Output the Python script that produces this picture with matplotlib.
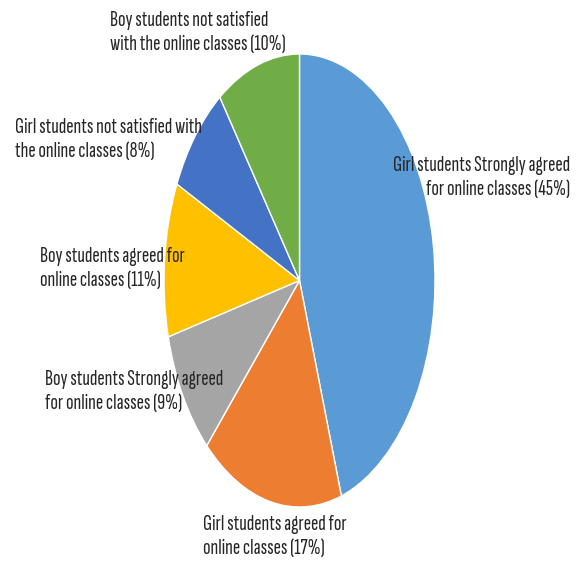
import matplotlib
matplotlib.use("Agg")
import matplotlib.pyplot as plt

# slices, clockwise from 12 o'clock
labels = [
    "Girl students Strongly agreed\nfor online classes (45%)",
    "Girl students agreed for\nonline classes (17%)",
    "Boy students Strongly agreed\nfor online classes (9%)",
    "Boy students agreed for\nonline classes (11%)",
    "Girl students not satisfied with\nthe online classes (8%)",
    "Boy students not satisfied\nwith the online classes (10%)",
]
shares = [45, 17, 9, 11, 8, 10]
colors = ["#5B9BD5", "#ED7D31", "#A5A5A5", "#FFC000", "#4472C4", "#70AD47"]

# label anchors in pixels (x, top of text block, alignment)
label_pos = [
    (570, 156, "right"),
    (203, 515, "left"),
    (45, 370, "left"),
    (40, 247, "left"),
    (15, 118, "left"),
    (110, 11, "left"),
]

W, H = 578, 565
plt.rcParams["font.family"] = ["Sofia Sans Extra Condensed", "DejaVu Sans"]

fig = plt.figure(figsize=(W / 100, H / 100), dpi=100)
# pie box in pixels: x 164..435, y 54..507 (stretched vertically)
ax = fig.add_axes([164 / W, 1 - 507 / H, 271 / W, 453 / H])
ax.pie(shares, colors=colors, startangle=90, counterclock=False,
       wedgeprops=dict(edgecolor="white", linewidth=1))
ax.set_aspect("auto")
ax.set_xlim(-1, 1)
ax.set_ylim(-1, 1)
ax.axis("off")

for text, (px, py, ha) in zip(labels, label_pos):
    fig.text(px / W, 1 - py / H, text, ha=ha, va="top",
             fontsize=16, color="#262626", linespacing=1.3,
             multialignment=ha, zorder=5)

fig.savefig("out.png", dpi=100)
